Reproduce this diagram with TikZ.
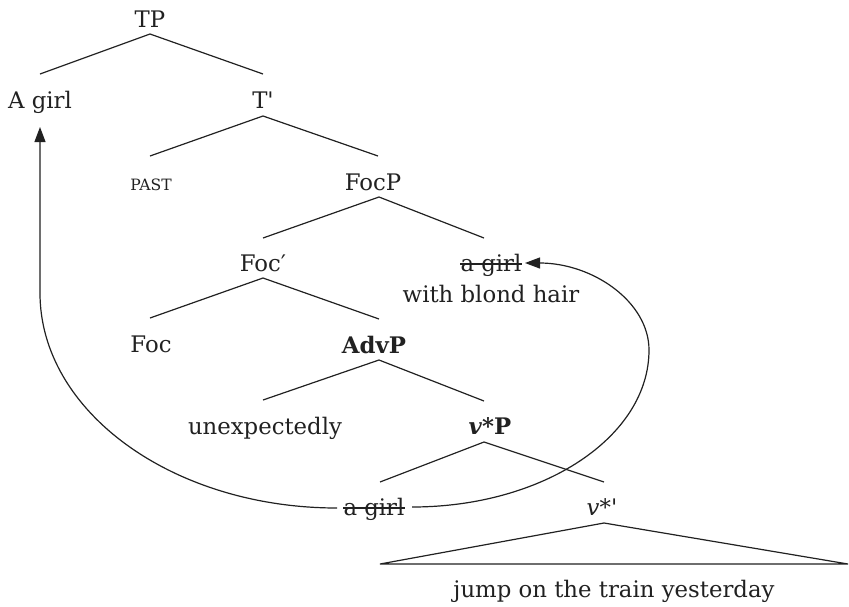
\documentclass[tikz,border=0pt]{standalone}
\usepackage{fontspec}
\setmainfont{DejaVu Serif}
\usetikzlibrary{arrows.meta,calc}
\begin{document}
\begin{tikzpicture}[x=1pt,y=1pt,
  lbl/.style={inner sep=0pt, anchor=base, font=\fontsize{22.8}{27}\selectfont, text=black!87},
  small/.style={lbl, font=\fontsize{15.6}{19}\selectfont},
  br/.style={line width=1.2pt, draw=black!87},
  mv/.style={line width=1.2pt, draw=black!87},
  tip/.style={-{Triangle[length=15pt,width=11pt]}}]
\useasboundingbox (0,0) rectangle (849,-606);
% nodes
\node[lbl] (TP) at (150,-27) {TP};
\node[lbl] (Agirl) at (40,-108) {A girl};
\node[lbl] (Tbar) at (263,-108) {T\textquotesingle};
\node[small] (past) at (151,-190) {PAST};
\node[lbl] (FocP) at (373,-190) {FocP};
\node[lbl] (Focbar) at (263,-271) {Foc′};
\node[lbl] (girlB) at (491,-271) {a girl};
\node[lbl] (blond) at (491,-302) {with blond hair};
\node[lbl] (Foc) at (151,-352) {Foc};
\node[lbl] (AdvP) at (374,-353) {\textbf{AdvP}};
\node[lbl] (unexp) at (265,-434) {unexpectedly};
\node[lbl] (vP) at (490,-434) {\textbf{\textit{v}*P}};
\node[lbl] (girlC) at (374,-515) {a girl};
\node[lbl] (vbar) at (602,-515) {\textit{v}*\textquotesingle};
\node[lbl] (jump) at (614,-597) {jump on the train yesterday};
% branch points
\coordinate (TP-b) at (150,-34);
\coordinate (Agirl-t) at (40,-74);
\coordinate (Tbar-t) at (263,-74);
\coordinate (Tbar-b) at (263,-116);
\coordinate (past-t) at (150,-156);
\coordinate (FocP-t) at (378,-156);
\coordinate (FocP-b) at (379,-197);
\coordinate (Focbar-t) at (263,-238);
\coordinate (girlB-t) at (484,-238);
\coordinate (Focbar-b) at (263,-278);
\coordinate (Foc-t) at (150,-318);
\coordinate (AdvP-t) at (379,-319);
\coordinate (AdvP-b) at (379,-360);
\coordinate (unexp-t) at (263,-400);
\coordinate (vP-t) at (484,-401);
\coordinate (vP-b) at (484,-442);
\coordinate (girlC-t) at (380,-482);
\coordinate (vbar-t) at (604,-482);
\coordinate (vbar-b) at (604,-523);
\coordinate (tri-l) at (380,-564);
\coordinate (tri-r) at (848,-564);
% tree branches
\draw[br] (Agirl-t) -- (TP-b) -- (Tbar-t);
\draw[br] (past-t) -- (Tbar-b) -- (FocP-t);
\draw[br] (Focbar-t) -- (FocP-b) -- (girlB-t);
\draw[br] (Foc-t) -- (Focbar-b) -- (AdvP-t);
\draw[br] (unexp-t) -- (AdvP-b) -- (vP-t);
\draw[br] (girlC-t) -- (vP-b) -- (vbar-t);
\draw[br] (tri-l) -- (vbar-b) -- (tri-r) -- cycle;
% strike-outs
\draw[line width=1.1pt, black!87] ([yshift=7]girlB.base west) -- ([yshift=7]girlB.base east);
\draw[line width=1.1pt, black!87] ([yshift=7]girlC.base west) -- ([yshift=7]girlC.base east);
% movement arrows
\coordinate (girlC-l) at (337,-508);
\coordinate (Agirl-arr) at (40,-127);
\coordinate (girlC-r) at (412,-507);
\coordinate (rm) at (649,-350);
\coordinate (girlB-arr) at (525,-263);
\draw[mv,tip] (girlC-l) arc[start angle=270,end angle=180,x radius=297,y radius=215] -- (Agirl-arr);
\draw[mv,tip] (girlC-r) .. controls +(131,0) and +(0,-87) .. (rm)
  .. controls +(0,48) and +(68,0) .. (girlB-arr);
\end{tikzpicture}
\end{document}
